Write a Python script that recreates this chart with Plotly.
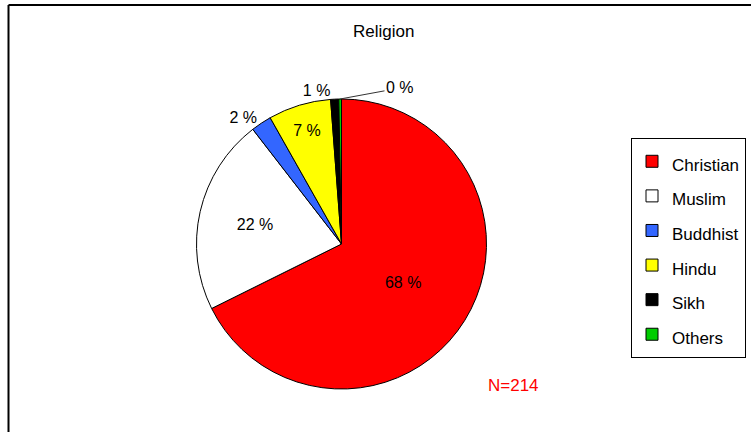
import math
import plotly.graph_objects as go

# religion breakdown, share of respondents (%)
religions = ["Christian", "Muslim", "Buddhist", "Hindu", "Sikh", "Others"]
share_pct = [67.8, 21.9, 2.3, 7.0, 0.9, 0.3]
slice_colors = ["#FF0000", "#FFFFFF", "#3366FF", "#FFFF00", "#000000", "#00CC00"]
label_pos = ["inside", "inside", "outside", "inside", "outside", "none"]
sample_n = 214

W, H = 751, 432
font = "Liberation Sans"

# pie placement in pixels
cx, cy, r = 341.5, 244, 145

total = sum(share_pct)
pct_text = ["%d %%" % round(v / total * 100) for v in share_pct]
# legend font is big only to space the entries out, the text itself is small
legend_names = ["<span style='font-size:17px'>%s</span>" % n for n in religions]

fig = go.Figure()
fig.add_trace(go.Pie(
    labels=legend_names,
    values=share_pct,
    text=pct_text,
    textinfo="text",
    textposition=label_pos,
    insidetextorientation="horizontal",
    textfont=dict(family=font, size=16, color="black"),
    outsidetextfont=dict(family=font, size=16, color="black"),
    marker=dict(colors=slice_colors, line=dict(color="black", width=1)),
    sort=False,
    direction="clockwise",
    rotation=0,
    domain=dict(x=[(cx - r) / W, (cx + r) / W], y=[1 - (cy + r) / H, 1 - (cy - r) / H]),
    hoverinfo="label+percent",
))

# the tiny "Others" slice gets its label pulled out to the right with a leader line
theta = 2 * math.pi * (total - share_pct[-1] / 2) / total
tip_x = cx + r * math.sin(theta)
tip_y = cy - r * math.cos(theta)

fig.update_layout(
    width=W, height=H,
    margin=dict(l=0, r=0, t=0, b=0),
    paper_bgcolor="white",
    plot_bgcolor="white",
    font=dict(family=font, size=16, color="black"),
    showlegend=True,
    legend=dict(
        x=631 / W, y=1 - 138 / H, xanchor="left", yanchor="top",
        bgcolor="white", bordercolor="black", borderwidth=1,
        font=dict(family=font, size=24.3, color="black"),
        itemclick=False,
    ),
    shapes=[
        # outer frame, only its top and left edges fall inside the window
        dict(type="line", xref="paper", yref="paper",
             x0=8.5 / W, x1=1, y0=1 - 5 / H, y1=1 - 5 / H,
             line=dict(color="black", width=2)),
        dict(type="line", xref="paper", yref="paper",
             x0=8.5 / W, x1=8.5 / W, y0=0, y1=1 - 5 / H,
             line=dict(color="black", width=2)),
    ],
    annotations=[
        dict(text="Religion", x=383 / W, y=1 - 31 / H, xref="paper", yref="paper",
             xanchor="center", yanchor="middle", showarrow=False,
             font=dict(family=font, size=17, color="black")),
        dict(text="N=%d" % sample_n, x=513 / W, y=1 - 385 / H, xref="paper", yref="paper",
             xanchor="center", yanchor="middle", showarrow=False,
             font=dict(family=font, size=17, color="#FF0000")),
        dict(text=pct_text[-1], x=tip_x / W, y=1 - tip_y / H, xref="paper", yref="paper",
             showarrow=True, arrowhead=0, arrowwidth=1, arrowcolor="#333333",
             ax=400 - tip_x, ay=88 - tip_y, standoff=0,
             font=dict(family=font, size=16, color="black")),
    ],
)

# drop the browser's default body margin so the figure sits at the window corner
fig.write_html(
    "out.html",
    config={"displayModeBar": False},
    post_script="document.body.style.margin='0';document.body.style.overflow='hidden';",
)
